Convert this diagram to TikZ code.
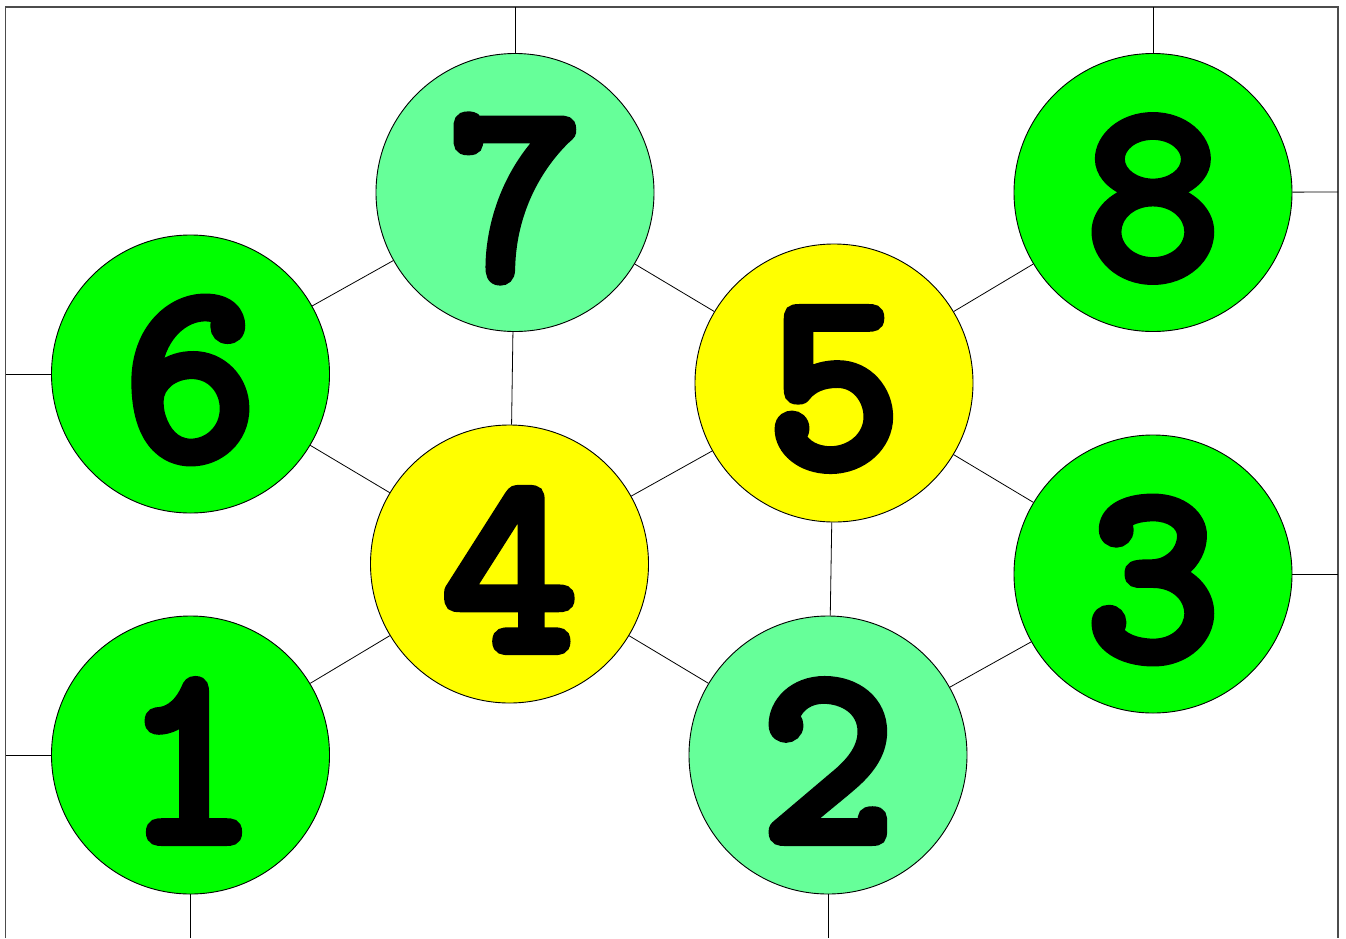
\documentclass[tikz,border=0pt]{standalone}
\usepackage{fontspec}
\newfontfamily\numfont{lmmonolt10-bold}[Extension=.otf, FakeBold=3.2]
\definecolor{lgreen}{HTML}{66FF99}
\definecolor{fgreen}{HTML}{00FF00}
\definecolor{fyellow}{HTML}{FFFF00}
\tikzset{
  ball/.style={circle, draw=black, line width=0.9pt, minimum size=278pt, inner sep=0pt},
  num/.style={font=\fontsize{260}{260}\selectfont\numfont, inner sep=0pt},
  link/.style={draw=black, line width=0.8pt},
  frame/.style={draw=black!70, line width=1.2pt}
}
\begin{document}
\begin{tikzpicture}[x=1pt,y=-1pt]
\useasboundingbox (0,0) rectangle (1346,938);
% frame
\coordinate (bl) at (5.5,938);
\coordinate (tl) at (5.5,7);
\coordinate (tr) at (1338,7);
\coordinate (br) at (1338,938);
\draw[frame] (bl) -- (tl) -- (tr) -- (br);
% border attachment points
\coordinate (t7) at (515,7);
\coordinate (t8) at (1153,7);
\coordinate (r8) at (1338,192);
\coordinate (l6) at (5.5,374);
\coordinate (r3) at (1338,574);
\coordinate (l1) at (5.5,755);
\coordinate (b1) at (190.5,938);
\coordinate (b2) at (828,938);
% nodes
\node[ball, fill=lgreen] (n7) at (515,192.5) {};
\node[ball, fill=fgreen] (n8) at (1153,192.5) {};
\node[ball, fill=fgreen] (n6) at (190.5,374) {};
\node[ball, fill=fyellow] (n5) at (834,383) {};
\node[ball, fill=fyellow] (n4) at (509.5,564) {};
\node[ball, fill=fgreen] (n3) at (1153,574) {};
\node[ball, fill=fgreen] (n1) at (190.5,755) {};
\node[ball, fill=lgreen] (n2) at (828,755) {};
% labels
\foreach \n in {1,...,8} {
  \node[num] (d\n) at ([yshift=-6pt]n\n.center) {\n};
}
% connectors
\draw[link] (n7) -- (t7);
\draw[link] (n8) -- (t8);
\draw[link] (n8) -- (r8);
\draw[link] (n6) -- (l6);
\draw[link] (n3) -- (r3);
\draw[link] (n1) -- (l1);
\draw[link] (n1) -- (b1);
\draw[link] (n2) -- (b2);
\draw[link] (n6) -- (n7);
\draw[link] (n6) -- (n4);
\draw[link] (n7) -- (n4);
\draw[link] (n7) -- (n5);
\draw[link] (n5) -- (n8);
\draw[link] (n5) -- (n4);
\draw[link] (n5) -- (n3);
\draw[link] (n5) -- (n2);
\draw[link] (n4) -- (n1);
\draw[link] (n4) -- (n2);
\draw[link] (n2) -- (n3);
\end{tikzpicture}
\end{document}
